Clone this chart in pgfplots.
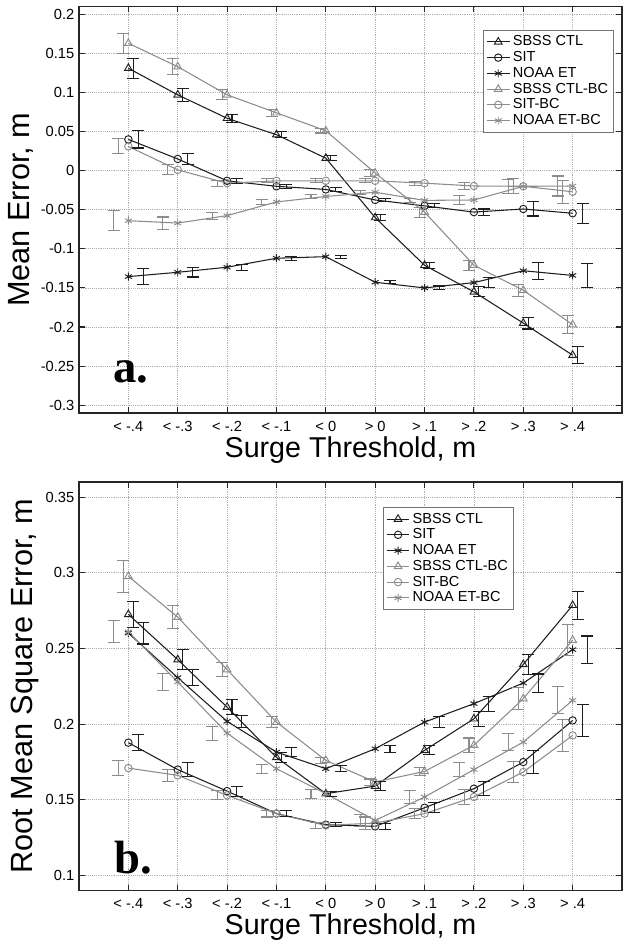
\documentclass[border=0pt]{standalone}
\usepackage{pgfplots}
\usepackage{pgfplotstable}
\pgfplotsset{compat=1.18}
\usepackage{fontspec}
\setmainfont{Liberation Sans}
\newfontfamily\serifbold{Liberation Serif}
\definecolor{dk}{HTML}{1E1E1E}
\definecolor{lt}{HTML}{8C8C8C}

% x: 0..9 = <-.4 ... >.4
\pgfplotstableread{
x ctl     sit     noaa    ctlbc   sitbc   noaabc  ectl   esit   enoaa  ectlbc esitbc enoaabc
0 0.131   0.040   -0.1355 0.163   0.031   -0.064  0.0128 0.011  0.010  0.0128 0.0096 0.0128
1 0.097   0.015   -0.130  0.133   0.001   -0.067  0.0085 0.0075 0.006  0.010  0.0064 0.0077
2 0.067   -0.013  -0.1235 0.097   -0.016  -0.0575 0.005  0.003  0.004  0.0064 0.004  0.0045
3 0.046   -0.020  -0.112  0.074   -0.013  -0.040  0.004  0.0025 0.0025 0.0043 0.0025 0.0035
4 0.016   -0.024  -0.110  0.051   -0.013  -0.033  0.003  0.0025 0.002  0.0028 0.0025 0.003
5 -0.060  -0.0375 -0.1427 -0.003  -0.013  -0.0276 0.004  0.0025 0.002  0.005  0.0025 0.0025
6 -0.121  -0.045  -0.150  -0.053  -0.016  -0.038  0.004  0.0025 0.0025 0.0064 0.0025 0.0025
7 -0.155  -0.053  -0.1432 -0.121  -0.0196 -0.0375 0.0065 0.004  0.0064 0.0064 0.004  0.0058
8 -0.195  -0.049  -0.128  -0.153  -0.020  -0.020  0.0075 0.009  0.0107 0.0075 0.0096 0.009
9 -0.236  -0.0545 -0.134  -0.197  -0.027  -0.0196 0.011  0.0128 0.0153 0.0115 0.015  0.0128
}\meanerr

\pgfplotstableread{
x ctl     sit     noaa    ctlbc   sitbc   noaabc  ectl   esit   enoaa  ectlbc esitbc enoaabc
0 0.2725  0.1877  0.2601  0.2976  0.1709  0.2610  0.0086 0.0053 0.0072 0.0105 0.005  0.0074
1 0.2426  0.1699  0.2307  0.2707  0.1661  0.2278  0.0064 0.0044 0.0055 0.0077 0.004  0.0057
2 0.2112  0.1557  0.2018  0.2360  0.1529  0.1940  0.005  0.0033 0.0041 0.0044 0.003  0.0047
3 0.1780  0.1408  0.1815  0.2013  0.1408  0.1705  0.0033 0.002  0.003  0.0035 0.0022 0.0029
4 0.1540  0.1335  0.1705  0.1760  0.1330  0.1540  0.0017 0.0015 0.002  0.002  0.002  0.003
5 0.1590  0.1324  0.1837  0.1617  0.1346  0.1363  0.0028 0.0019 0.0022 0.002  0.004  0.004
6 0.1826  0.1447  0.2013  0.1687  0.1408  0.1518  0.003  0.0033 0.0035 0.0028 0.0033 0.004
7 0.2035  0.1573  0.2135  0.1860  0.1518  0.1699  0.005  0.0047 0.005  0.0048 0.005  0.0046
8 0.2394  0.1749  0.2271  0.2168  0.1683  0.1881  0.0066 0.0074 0.006  0.0072 0.0072 0.0055
9 0.2785  0.2024  0.2492  0.2555  0.1925  0.2157  0.0092 0.0105 0.009  0.0101 0.0105 0.009
}\rmse

\pgfplotsset{
  myax/.style={
    scale only axis, width=407.25pt,
    xmin=-1, xmax=10,
    xtick={0,...,9},
    xticklabels={< -.4,< -.3,< -.2,< -.1,< 0,> 0,> .1,> .2,> .3,> .4},
    tick align=inside, xtick pos=both, ytick pos=both,
    major tick length=4.5pt,
    grid=major,
    major grid style={densely dotted, color=black!30, line width=0.6pt},
    axis line style={black!85, line width=0.8pt},
    tick style={black!85, line width=0.8pt},
    ticklabel style={font=\fontsize{11}{13}\selectfont},
    xticklabel style={yshift=-2.5pt},
    xlabel={Surge Threshold, m},
    xlabel style={font=\fontsize{21.5}{24}\selectfont, yshift=3pt},
    ylabel style={font=\fontsize{23}{26}\selectfont, xshift=0pt, yshift=-1.5pt},
    legend cell align=left,
    legend style={draw=black!55, line width=0.6pt,
      font=\fontsize{10.9}{13}\selectfont, row sep=-1.3pt, inner sep=2pt},
  },
  s1/.style={dk, line width=0.8pt, mark=triangle, mark size=3.3pt, mark options={solid, line width=0.7pt}},
  s2/.style={dk, line width=0.8pt, mark=o, mark size=2.8pt, mark options={solid, line width=0.7pt}},
  s3/.style={dk, line width=0.8pt, mark=asterisk, mark size=3pt, mark options={solid, line width=0.7pt}},
  s4/.style={lt, line width=0.8pt, mark=triangle, mark size=3.3pt, mark options={solid, line width=0.7pt}},
  s5/.style={lt, line width=0.8pt, mark=o, mark size=2.8pt, mark options={solid, line width=0.7pt}},
  s6/.style={lt, line width=0.8pt, mark=asterisk, mark size=3pt, mark options={solid, line width=0.7pt}},
  ebar/.style={forget plot, mark=none, draw=none,
    error bars/.cd, y dir=both, y explicit,
    error bar style={draw=#1, line width=0.8pt, solid},
    error mark options={draw=#1, rotate=90, mark size=4.5pt, line width=0.8pt}},
}

\begin{document}
\begin{tikzpicture}
\path[use as bounding box] (-59.25pt,4.875pt) rectangle (420pt,-700.875pt);

\begin{axis}[myax, at={(0,0)}, anchor=north west,
  height=304.9pt,
  ymin=-0.31, ymax=0.21,
  ytick={-0.3,-0.25,-0.2,-0.15,-0.1,-0.05,0,0.05,0.1,0.15,0.2},
  yticklabels={-0.3,-0.25,-0.2,-0.15,-0.1,-0.05,0,0.05,0.1,0.15,0.2},
  ylabel={Mean Error, m},
  legend style={at={(axis description cs:0.985,0.942)}, anchor=north east},
]
\addplot[s1] table[x=x, y=ctl] {\meanerr};
\addlegendentry{SBSS CTL}
\addplot[s2] table[x=x, y=sit] {\meanerr};
\addlegendentry{SIT}
\addplot[s3] table[x=x, y=noaa] {\meanerr};
\addlegendentry{NOAA ET}
\addplot[s4] table[x=x, y=ctlbc] {\meanerr};
\addlegendentry{SBSS CTL-BC}
\addplot[s5] table[x=x, y=sitbc] {\meanerr};
\addlegendentry{SIT-BC}
\addplot[s6] table[x=x, y=noaabc] {\meanerr};
\addlegendentry{NOAA ET-BC}
\addplot[ebar=dk] table[x expr=\thisrow{x}+0.1, y=ctl, y error=ectl] {\meanerr};
\addplot[ebar=dk] table[x expr=\thisrow{x}+0.2, y=sit, y error=esit] {\meanerr};
\addplot[ebar=dk] table[x expr=\thisrow{x}+0.3, y=noaa, y error=enoaa] {\meanerr};
\addplot[ebar=lt] table[x expr=\thisrow{x}-0.1, y=ctlbc, y error=ectlbc] {\meanerr};
\addplot[ebar=lt] table[x expr=\thisrow{x}-0.2, y=sitbc, y error=esitbc] {\meanerr};
\addplot[ebar=lt] table[x expr=\thisrow{x}-0.3, y=noaabc, y error=enoaabc] {\meanerr};
\node[anchor=base west, font=\serifbold\bfseries\fontsize{35}{40}\selectfont, inner sep=0pt] at (axis cs:-0.31,-0.2715) {a.};
\end{axis}

\begin{axis}[myax, at={(0,-356.6pt)}, anchor=north west,
  height=306.4pt,
  ymin=0.09, ymax=0.36,
  ytick={0.1,0.15,0.2,0.25,0.3,0.35},
  yticklabels={0.1,0.15,0.2,0.25,0.3,0.35},
  ylabel={Root Mean Square Error, m},
  legend style={at={(axis description cs:0.56,0.938)}, anchor=north west},
]
\addplot[s1] table[x=x, y=ctl] {\rmse};
\addlegendentry{SBSS CTL}
\addplot[s2] table[x=x, y=sit] {\rmse};
\addlegendentry{SIT}
\addplot[s3] table[x=x, y=noaa] {\rmse};
\addlegendentry{NOAA ET}
\addplot[s4] table[x=x, y=ctlbc] {\rmse};
\addlegendentry{SBSS CTL-BC}
\addplot[s5] table[x=x, y=sitbc] {\rmse};
\addlegendentry{SIT-BC}
\addplot[s6] table[x=x, y=noaabc] {\rmse};
\addlegendentry{NOAA ET-BC}
\addplot[ebar=dk] table[x expr=\thisrow{x}+0.1, y=ctl, y error=ectl] {\rmse};
\addplot[ebar=dk] table[x expr=\thisrow{x}+0.2, y=sit, y error=esit] {\rmse};
\addplot[ebar=dk] table[x expr=\thisrow{x}+0.3, y=noaa, y error=enoaa] {\rmse};
\addplot[ebar=lt] table[x expr=\thisrow{x}-0.1, y=ctlbc, y error=ectlbc] {\rmse};
\addplot[ebar=lt] table[x expr=\thisrow{x}-0.2, y=sitbc, y error=esitbc] {\rmse};
\addplot[ebar=lt] table[x expr=\thisrow{x}-0.3, y=noaabc, y error=enoaabc] {\rmse};
\node[anchor=base west, font=\serifbold\bfseries\fontsize{35}{40}\selectfont, inner sep=0pt] at (axis cs:-0.29,0.1013) {b.};
\end{axis}
\end{tikzpicture}
\end{document}
